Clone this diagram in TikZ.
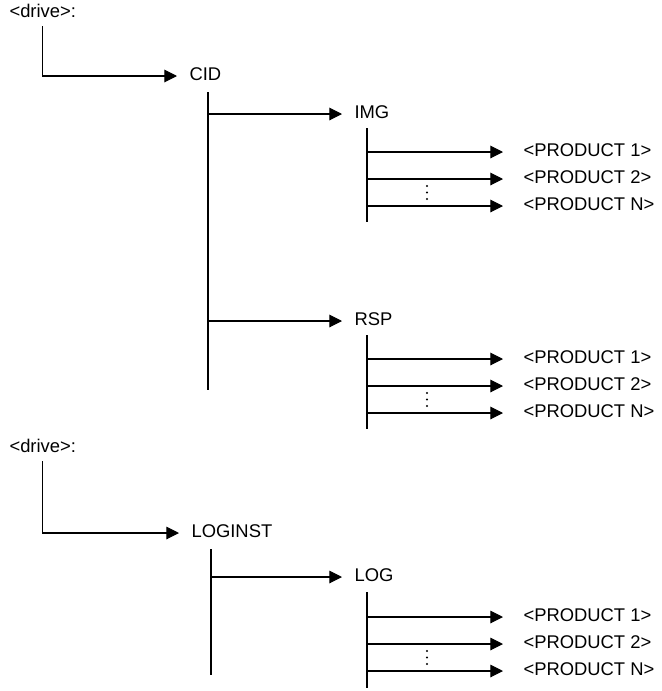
\documentclass[tikz,border=0pt]{standalone}
\usepackage{fontspec}
\setmainfont{Liberation Sans}
\usetikzlibrary{arrows.meta}

\tikzset{
  dir/.style={anchor=west, inner sep=0pt, text height=0.72em, text depth=0pt},
  branch/.style={-{Triangle[length=0.38cm, width=0.38cm]}, shorten >=0.36cm},
  prodbranch/.style={branch, shorten >=0.6cm},
  dropline/.style={shorten <=0.26cm},
}

\begin{document}
\begin{tikzpicture}[x=0.03cm, y=-0.03cm, line width=0.9pt, font=\fontsize{15.7}{19}\selectfont]
  \useasboundingbox (0,0) rectangle (661,691);

  % first drive: CID tree
  \node[dir] (drive1) at (9,13) {<drive>:};
  \node[dir] (cid) at (189,76) {CID};
  \draw[branch, dropline] (drive1.south) |- (cid.west);

  \node[dir] (img) at (354,114) {IMG};
  \node[dir] (rsp) at (354,321) {RSP};
  \coordinate (cidtrunk) at (208,92);
  \coordinate (cidend) at (208,390);
  \draw (cidtrunk) -- (cidend);
  \draw[branch] (cidtrunk |- img.west) -- (img.west);
  \draw[branch] (cidtrunk |- rsp.west) -- (rsp.west);

  % IMG products
  \node[dir] (img1) at (523,152) {<PRODUCT 1>};
  \node[dir] (img2) at (523,179) {<PRODUCT 2>};
  \node[dir] (imgn) at (523,206) {<PRODUCT N>};
  \coordinate (imgtrunk) at (367,128);
  \coordinate (imgend) at (367,222);
  \draw (imgtrunk) -- (imgend);
  \draw[prodbranch] (imgtrunk |- img1.west) -- (img1.west);
  \draw[prodbranch] (imgtrunk |- img2.west) -- (img2.west);
  \draw[prodbranch] (imgtrunk |- imgn.west) -- (imgn.west);
  \fill (427,186) circle[radius=1pt] (427,192.5) circle[radius=1pt] (427,199) circle[radius=1pt];

  % RSP products
  \node[dir] (rsp1) at (523,359) {<PRODUCT 1>};
  \node[dir] (rsp2) at (523,386) {<PRODUCT 2>};
  \node[dir] (rspn) at (523,413) {<PRODUCT N>};
  \coordinate (rsptrunk) at (367,335);
  \coordinate (rspend) at (367,429);
  \draw (rsptrunk) -- (rspend);
  \draw[prodbranch] (rsptrunk |- rsp1.west) -- (rsp1.west);
  \draw[prodbranch] (rsptrunk |- rsp2.west) -- (rsp2.west);
  \draw[prodbranch] (rsptrunk |- rspn.west) -- (rspn.west);
  \fill (427,393) circle[radius=1pt] (427,399.5) circle[radius=1pt] (427,406) circle[radius=1pt];

  % second drive: LOGINST tree
  \node[dir] (drive2) at (9,448) {<drive>:};
  \node[dir] (loginst) at (191,533) {LOGINST};
  \draw[branch, dropline] (drive2.south) |- (loginst.west);

  \node[dir] (log) at (354,577) {LOG};
  \coordinate (logintrunk) at (211,549);
  \coordinate (loginend) at (211,675);
  \draw (logintrunk) -- (loginend);
  \draw[branch] (logintrunk |- log.west) -- (log.west);

  % LOG products
  \node[dir] (log1) at (523,617) {<PRODUCT 1>};
  \node[dir] (log2) at (523,644) {<PRODUCT 2>};
  \node[dir] (logn) at (523,671) {<PRODUCT N>};
  \coordinate (logtrunk) at (367,592);
  \coordinate (logend) at (367,688);
  \draw (logtrunk) -- (logend);
  \draw[prodbranch] (logtrunk |- log1.west) -- (log1.west);
  \draw[prodbranch] (logtrunk |- log2.west) -- (log2.west);
  \draw[prodbranch] (logtrunk |- logn.west) -- (logn.west);
  \fill (427,651) circle[radius=1pt] (427,657.5) circle[radius=1pt] (427,664) circle[radius=1pt];
\end{tikzpicture}
\end{document}
